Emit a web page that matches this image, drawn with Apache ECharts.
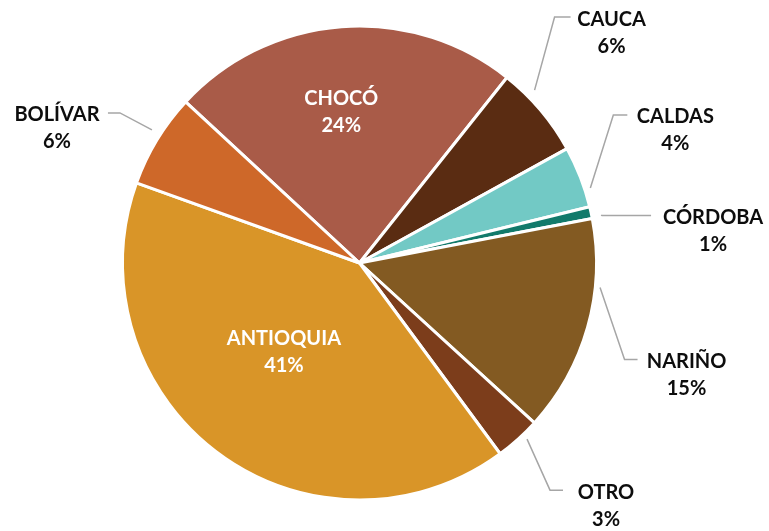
<!DOCTYPE html>
<html>
<head>
<meta charset="utf-8">
<script src="https://cdn.jsdelivr.net/npm/echarts@6/dist/echarts.min.js"></script>
<style>
html, body { margin: 0; padding: 0; background: #fff; }
#chart { width: 769px; height: 531px; }
</style>
</head>
<body>
<div id="chart"></div>
<script>
// porciones en sentido horario, empezando por CHOCÓ
const departamentos = ['CHOCÓ', 'CAUCA', 'CALDAS', 'CÓRDOBA', 'NARIÑO', 'OTRO', 'ANTIOQUIA', 'BOLÍVAR']
const porcentajes = [23.8, 6.3, 4.2, 0.8, 14.8, 3.1, 40.6, 6.4]
const colores = ['#A95B48', '#5A2C12', '#72C9C5', '#127A6B', '#835A22', '#7C3D1B', '#D99528', '#CE6829']

// etiquetas que van dentro de la porción: desplazamiento [dx, dy]
const ajusteDentro = {
  'CHOCÓ': [-9, -30],
  'ANTIOQUIA': [-3, -8],
}
// guías de las etiquetas de fuera, medidas desde el borde de la porción:
// [inicio dx, inicio dy, codo dx, codo dy, tramo horizontal, centro del texto desde el final]
const guias = {
  'CAUCA': [-6, -20, 14, -93, 16, 41],
  'CALDAS': [10, 11, 33, -62, 14, 48],
  'CÓRDOBA': [10, 2.5, 11, 3, 49, 62],
  'NARIÑO': [12.5, -40, 37, 32, 13, 49],
  'OTRO': [9, 0, 32, 51, 13, 43],
  'BOLÍVAR': [-5, -10, -37, -27, 12, 51],
}

let chart = echarts.init(document.getElementById('chart'))

chart.setOption({
  animation: false,
  series: [
    {
      type: 'pie',
      center: [359.5, 263],
      radius: 237,
      startAngle: 137.2,
      percentPrecision: 0,
      avoidLabelOverlap: false,
      itemStyle: {
        borderColor: '#fff',
        borderWidth: 3,
      },
      label: {
        show: true,
        position: 'outside',
        formatter: '{b}\n{d}%',
        fontFamily: 'Lato',
        fontWeight: 'bold',
        fontSize: 20,
        lineHeight: 27,
        color: '#0d0d0d',
      },
      labelLine: {
        show: true,
        length: 15,
        length2: 15,
        lineStyle: { color: '#a6a6a6', width: 1.5 },
      },
      emphasis: { disabled: true },
      labelLayout: function (p) {
        let nombre = departamentos[p.dataIndex]
        if (ajusteDentro[nombre]) {
          return { dx: ajusteDentro[nombre][0], dy: ajusteDentro[nombre][1] }
        }
        let g = guias[nombre]
        let pts = p.labelLinePoints
        if (!g || !pts) return {}
        let x0 = pts[0][0]
        let y0 = pts[0][1]
        let lado = pts[1][0] >= x0 ? 1 : -1
        let inicio = [x0 + g[0], y0 + g[1]]
        let codo = [x0 + g[2], y0 + g[3]]
        let fin = [codo[0] + lado * g[4], codo[1]]
        return {
          x: fin[0] + lado * g[5],
          y: codo[1] + 2 + 13.5,
          align: 'center',
          verticalAlign: 'middle',
          labelLinePoints: [inicio, codo, fin],
        }
      },
      data: departamentos.map(function (nombre, i) {
        let item = {
          name: nombre,
          value: porcentajes[i],
          itemStyle: { color: colores[i] },
        }
        if (ajusteDentro[nombre]) {
          item.label = { position: 'inside', color: '#fff' }
          item.labelLine = { show: false }
        }
        return item
      }),
    },
  ],
})
</script>
</body>
</html>
